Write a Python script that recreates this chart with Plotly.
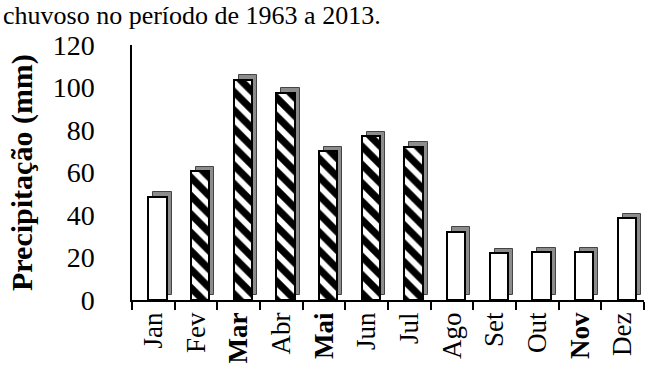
import plotly.graph_objects as go

months = ["Jan", "Fev", "Mar", "Abr", "Mai", "Jun", "Jul", "Ago", "Set", "Out", "Nov", "Dez"]
month_labels = ["Jan", "Fev", "<b>Mar</b>", "Abr", "<b>Mai</b>", "Jun", "Jul", "Ago", "Set", "Out", "<b>Nov</b>", "Dez"]
precip = [48.5, 60.5, 103.5, 97.5, 70, 77, 72, 32, 22, 22.5, 22.5, 38.5]
hatched = [False, True, True, True, True, True, True, False, False, False, False, False]
y_ticks = [0, 20, 40, 60, 80, 100, 120]

FONT = "Liberation Serif"
W, H = 658, 380
L, R, T, B = 132, 14, 45, 80
PW, PH = W - L - R, H - T - B

fig = go.Figure()

# 3D-like side/shadow of the columns
fig.add_trace(go.Bar(
    x=months, y=precip, base=2.2,
    offset=0.0, width=0.43,
    marker=dict(color="#8c8c8c", line=dict(color="#444444", width=1)),
    hoverinfo="skip", showlegend=False,
))

# Front face of the columns
fig.add_trace(go.Bar(
    x=months, y=precip,
    offset=-0.117, width=0.43,
    marker=dict(
        color="white",
        line=dict(color="black", width=2),
        pattern=dict(
            shape=["\\" if h else "" for h in hatched],
            fgcolor="black", bgcolor="white", fgopacity=1,
            size=13, solidity=0.55,
        ),
    ),
    showlegend=False,
))

fig.update_layout(
    width=W, height=H,
    margin=dict(l=L, r=R, t=T, b=B),
    plot_bgcolor="white", paper_bgcolor="white",
    barmode="overlay", bargap=0,
    font=dict(family=FONT, color="black"),
    xaxis=dict(
        type="category",
        tickvals=months, ticktext=month_labels,
        tickangle=-90,
        tickfont=dict(family=FONT, size=27, color="black"),
        ticks="outside", tickson="boundaries", ticklen=8, tickcolor="black", tickwidth=1.5,
        showline=True, linecolor="black", linewidth=1.5,
        showgrid=False, zeroline=False,
    ),
    yaxis=dict(
        range=[0, 120], tickvals=y_ticks,
        tickfont=dict(family=FONT, size=28, color="black"),
        ticks="", ticklabelstandoff=30,
        showline=True, linecolor="black", linewidth=1.5,
        showgrid=False, zeroline=False,
    ),
    annotations=[
        dict(
            text="chuvoso no período de 1963 a 2013.",
            xref="paper", yref="paper",
            x=-(L - 1) / PW, y=(PH + T - 32) / PH,
            xanchor="left", yanchor="bottom",
            showarrow=False,
            font=dict(family=FONT, size=26, color="black"),
        ),
        dict(
            text="<b>Precipitação (mm)</b>",
            xref="paper", yref="paper",
            x=(22 - L) / PW, y=(300 - 173) / PH,
            xanchor="center", yanchor="middle",
            textangle=-90,
            showarrow=False,
            font=dict(family=FONT, size=30, color="black"),
        ),
    ],
)

fig.write_html("out.html")
